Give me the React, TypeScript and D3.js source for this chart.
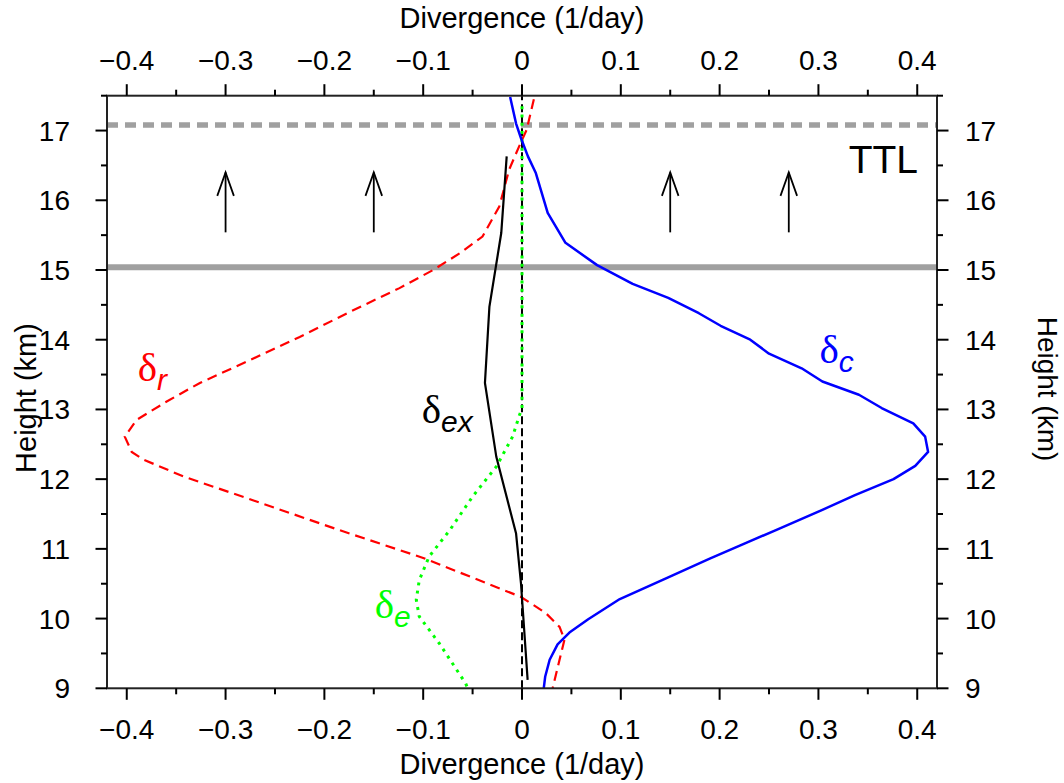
import React from "react";
import * as d3 from "d3";

const width = 1064;
const height = 783;

// plot box
const x0 = 107;
const x1 = 937;
const y0 = 95.7;
const y1 = 688.3;

// Data: [divergence (1/day), height (km)]
const deltaC: [number, number][] = [
  [-0.012, 17.48], [-0.006, 17.1], [-0.001, 16.89], [0.006, 16.63], [0.014, 16.39],
  [0.026, 15.82], [0.044, 15.39], [0.076, 15.07], [0.112, 14.8], [0.148, 14.6],
  [0.179, 14.38], [0.201, 14.2], [0.231, 14.0], [0.25, 13.8], [0.283, 13.59],
  [0.304, 13.4], [0.341, 13.21], [0.364, 13.02], [0.396, 12.8], [0.408, 12.61],
  [0.411, 12.39], [0.398, 12.19], [0.376, 12.0], [0.337, 11.77], [0.304, 11.56],
  [0.257, 11.27], [0.221, 11.05], [0.19, 10.86], [0.148, 10.59], [0.099, 10.28],
  [0.067, 9.99], [0.048, 9.8], [0.036, 9.63], [0.028, 9.41], [0.0235, 9.17], [0.022, 9.0],
];

const deltaR: [number, number][] = [
  [0.012, 17.45], [0.0047, 17.01], [-0.003, 16.77], [-0.013, 16.44], [-0.023, 15.91],
  [-0.04, 15.48], [-0.063, 15.24], [-0.09, 15.0], [-0.124, 14.74], [-0.174, 14.4],
  [-0.225, 14.04], [-0.275, 13.71], [-0.326, 13.38], [-0.36, 13.11], [-0.39, 12.85],
  [-0.402, 12.61], [-0.395, 12.39], [-0.383, 12.28], [-0.343, 12.04], [-0.279, 11.73],
  [-0.185, 11.27], [-0.1, 10.87], [-0.001, 10.31], [0.024, 10.08], [0.038, 9.88],
  [0.043, 9.7], [0.038, 9.41], [0.031, 9.0],
];

const deltaEx: [number, number][] = [
  [-0.0155, 16.63], [-0.021, 15.53], [-0.033, 14.47], [-0.0375, 13.38],
  [-0.026, 12.32], [-0.006, 11.22], [-0.001, 10.5], [0.0057, 9.12],
];

const deltaE: [number, number][] = [
  [0, 17.35], [0, 13.02], [-0.003, 12.9], [-0.0095, 12.61], [-0.026, 12.18],
  [-0.05, 11.75], [-0.073, 11.27], [-0.094, 10.89], [-0.104, 10.55], [-0.107, 10.27],
  [-0.104, 10.03], [-0.084, 9.65], [-0.057, 9.07], [-0.055, 9.0],
];

const zeroLine: [number, number][] = [[0, 9], [0, 17.5]];

const ttlTop = 17.08;
const ttlBottom = 15.04;
const arrowX = [-0.3, -0.15, 0.15, 0.27];
const arrowFrom = 15.54;
const arrowTo = 16.4;

const xMajor = [-0.4, -0.3, -0.2, -0.1, 0, 0.1, 0.2, 0.3, 0.4];
const xMinor = [-0.35, -0.25, -0.15, -0.05, 0.05, 0.15, 0.25, 0.35];
const yMajor = [9, 10, 11, 12, 13, 14, 15, 16, 17];
const yMinor = [9.5, 10.5, 11.5, 12.5, 13.5, 14.5, 15.5, 16.5, 17.5];

const fmtX = (v: number) => (v === 0 ? "0" : v < 0 ? "\u2212" + Math.abs(v).toFixed(1) : v.toFixed(1));

const sans = "'Liberation Sans', Arial, Helvetica, sans-serif";
const serif = "'Liberation Serif', 'Times New Roman', serif";

export default function App() {
  const xScale = d3.scaleLinear().domain([-0.42, 0.42]).range([x0, x1]);
  const yScale = d3.scaleLinear().domain([9, 17.5]).range([y1, y0]);

  const line = d3
    .line<[number, number]>()
    .x((d) => xScale(d[0]))
    .y((d) => yScale(d[1]));

  const majorLen = 11.5;
  const minorLen = 6;
  const tickFont = 28;

  const label = (
    v: number,
    h: number,
    sym: string,
    sub: string,
    color: string
  ) => (
    <text x={xScale(v)} y={yScale(h)} fill={color} fontFamily={serif} fontSize={41}>
      {sym}
      <tspan fontFamily={sans} fontStyle="italic" fontSize={30} dy={9}>
        {sub}
      </tspan>
    </text>
  );

  return (
    <svg
      width={width}
      height={height}
      style={{ position: "absolute", left: 0, top: 0, background: "#fff" }}
    >
      {/* TTL boundaries */}
      <line
        x1={x0} x2={x1} y1={yScale(ttlTop)} y2={yScale(ttlTop)}
        stroke="#a0a0a0" strokeWidth={5.3} strokeDasharray="11 7"
      />
      <line
        x1={x0} x2={x1} y1={yScale(ttlBottom)} y2={yScale(ttlBottom)}
        stroke="#a0a0a0" strokeWidth={6}
      />

      {/* arrows */}
      {arrowX.map((v) => {
        const ax = xScale(v);
        const yt = yScale(arrowTo);
        return (
          <g key={v} stroke="#000" strokeWidth={1.8} fill="none">
            <line x1={ax} x2={ax} y1={yScale(arrowFrom)} y2={yt} />
            <polyline points={`${ax - 8.3},${yt + 23.5} ${ax},${yt} ${ax + 8.3},${yt + 23.5}`} />
          </g>
        );
      })}

      {/* curves */}
      <path d={line(zeroLine) ?? ""} fill="none" stroke="#000" strokeWidth={2} strokeDasharray="8 4" />
      <path d={line(deltaE) ?? ""} fill="none" stroke="#00ff00" strokeWidth={3} strokeDasharray="3 5.3" />
      <path d={line(deltaR) ?? ""} fill="none" stroke="#ff0000" strokeWidth={2.2} strokeDasharray="10 6" />
      <path d={line(deltaC) ?? ""} fill="none" stroke="#0000ff" strokeWidth={2.5} strokeLinejoin="round" />
      <path d={line(deltaEx) ?? ""} fill="none" stroke="#000" strokeWidth={2.2} />

      {/* frame */}
      <rect x={x0} y={y0} width={x1 - x0} height={y1 - y0} fill="none" stroke="#222" strokeWidth={2} />

      {/* ticks */}
      <g stroke="#000" strokeWidth={2}>
        {xMajor.map((v) => (
          <g key={"xM" + v}>
            <line x1={xScale(v)} x2={xScale(v)} y1={y0} y2={y0 - majorLen} />
            <line x1={xScale(v)} x2={xScale(v)} y1={y1} y2={y1 + majorLen} />
          </g>
        ))}
        {xMinor.map((v) => (
          <g key={"xm" + v}>
            <line x1={xScale(v)} x2={xScale(v)} y1={y0} y2={y0 - minorLen} />
            <line x1={xScale(v)} x2={xScale(v)} y1={y1} y2={y1 + minorLen} />
          </g>
        ))}
        {yMajor.map((h) => (
          <g key={"yM" + h}>
            <line x1={x0} x2={x0 - majorLen} y1={yScale(h)} y2={yScale(h)} />
            <line x1={x1} x2={x1 + majorLen} y1={yScale(h)} y2={yScale(h)} />
          </g>
        ))}
        {yMinor.map((h) => (
          <g key={"ym" + h}>
            <line x1={x0} x2={x0 - minorLen} y1={yScale(h)} y2={yScale(h)} />
            <line x1={x1} x2={x1 + minorLen} y1={yScale(h)} y2={yScale(h)} />
          </g>
        ))}
      </g>

      {/* tick labels */}
      <g fontFamily={sans} fontSize={tickFont} fill="#000">
        {xMajor.map((v) => (
          <g key={"xl" + v}>
            <text x={xScale(v)} y={70} textAnchor="middle">{fmtX(v)}</text>
            <text x={xScale(v)} y={739} textAnchor="middle">{fmtX(v)}</text>
          </g>
        ))}
        {yMajor.map((h) => (
          <g key={"yl" + h}>
            <text x={70} y={yScale(h) + 10} textAnchor="end">{h}</text>
            <text x={965} y={yScale(h) + 10} textAnchor="start">{h}</text>
          </g>
        ))}
      </g>

      {/* axis titles */}
      <g fontFamily={sans} fontSize={29} fill="#000">
        <text x={(x0 + x1) / 2} y={28} textAnchor="middle">Divergence (1/day)</text>
        <text x={(x0 + x1) / 2} y={774} textAnchor="middle">Divergence (1/day)</text>
        <text transform="translate(36,398) rotate(-90)" textAnchor="middle">Height (km)</text>
        <text transform="translate(1038,389) rotate(90)" textAnchor="middle" fontSize={28}>
          Height (km)
        </text>
      </g>

      {/* annotations */}
      <text x={xScale(0.4008)} y={yScale(16.39)} textAnchor="end" fontFamily={sans} fontSize={39}>
        TTL
      </text>
      {label(-0.389, 13.41, "\u03b4", "r", "#ff0000")}
      {label(-0.1015, 12.81, "\u03b4", "ex", "#000")}
      {label(-0.149, 10.01, "\u03b4", "e", "#00ff00")}
      {label(0.301, 13.67, "\u03b4", "c", "#0000ff")}
    </svg>
  );
}
